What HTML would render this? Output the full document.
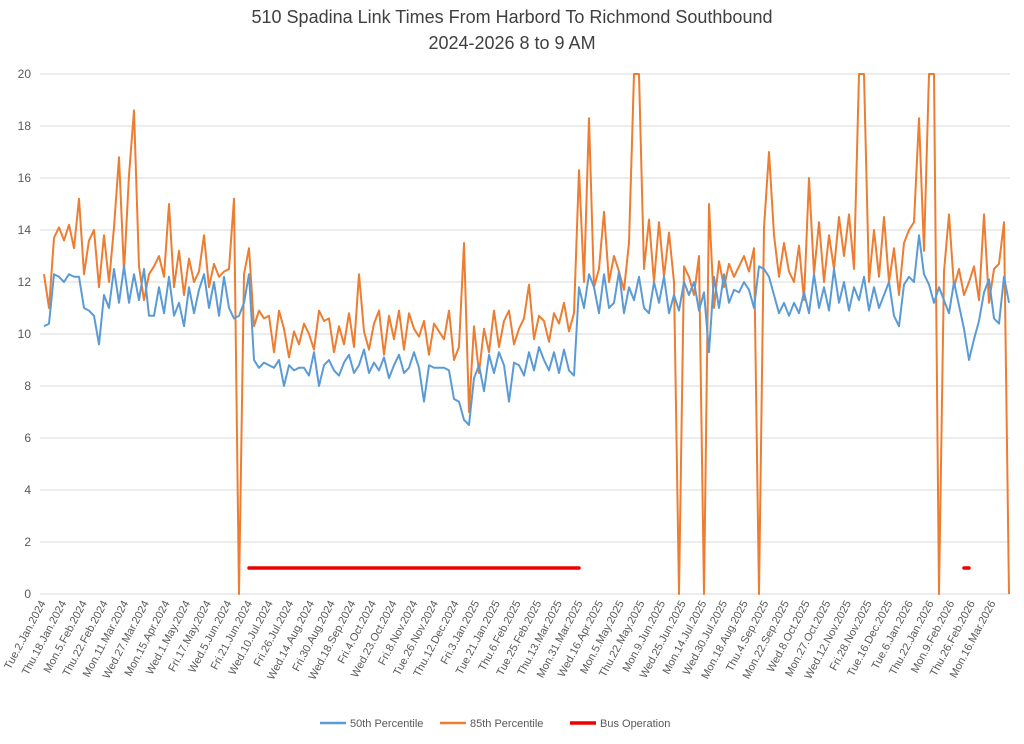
<!DOCTYPE html>
<html><head><meta charset="utf-8"><style>
body{margin:0;background:#fff;font-family:"Liberation Sans",sans-serif}
svg text{font-family:"Liberation Sans",sans-serif}
</style></head><body>
<svg id="chart" width="1024" height="739" viewBox="0 0 1024 739" xmlns="http://www.w3.org/2000/svg">
<text x="512" y="23" text-anchor="middle" font-size="18" fill="#404040">510 Spadina Link Times From Harbord To Richmond Southbound</text>
<text x="512" y="49" text-anchor="middle" font-size="18" fill="#404040">2024-2026 8 to 9 AM</text>
<g id="grid"></g><g id="yl"></g><g id="xl"></g><g id="series"></g>
<g>
<line x1="320" y1="723" x2="346" y2="723" stroke="#5b9bd5" stroke-width="2.5"/><text x="350" y="727" font-size="11" fill="#595959">50th Percentile</text>
<line x1="440" y1="723" x2="466" y2="723" stroke="#ed7d31" stroke-width="2.5"/><text x="470" y="727" font-size="11" fill="#595959">85th Percentile</text>
<line x1="570" y1="723" x2="596" y2="723" stroke="#e00" stroke-width="3.5"/><text x="600" y="727" font-size="11" fill="#595959">Bus Operation</text>
</g>
</svg>
<script>
const yTicks=[0,2,4,6,8,10,12,14,16,18,20];
const xLabels=["Tue.2.Jan.2024","Thu.18.Jan.2024","Mon.5.Feb.2024","Thu.22.Feb.2024","Mon.11.Mar.2024","Wed.27.Mar.2024","Mon.15.Apr.2024","Wed.1.May.2024","Fri.17.May.2024","Wed.5.Jun.2024","Fri.21.Jun.2024","Wed.10.Jul.2024","Fri.26.Jul.2024","Wed.14.Aug.2024","Fri.30.Aug.2024","Wed.18.Sep.2024","Fri.4.Oct.2024","Wed.23.Oct.2024","Fri.8.Nov.2024","Tue.26.Nov.2024","Thu.12.Dec.2024","Fri.3.Jan.2025","Tue.21.Jan.2025","Thu.6.Feb.2025","Tue.25.Feb.2025","Thu.13.Mar.2025","Mon.31.Mar.2025","Wed.16.Apr.2025","Mon.5.May.2025","Thu.22.May.2025","Mon.9.Jun.2025","Wed.25.Jun.2025","Mon.14.Jul.2025","Wed.30.Jul.2025","Mon.18.Aug.2025","Thu.4.Sep.2025","Mon.22.Sep.2025","Wed.8.Oct.2025","Mon.27.Oct.2025","Wed.12.Nov.2025","Fri.28.Nov.2025","Tue.16.Dec.2025","Tue.6.Jan.2026","Thu.22.Jan.2026","Mon.9.Feb.2026","Thu.26.Feb.2026","Mon.16.Mar.2026"];
const p50=[10.3,10.4,12.3,12.2,12.0,12.3,12.2,12.2,11.0,10.9,
10.7,9.6,11.5,11.0,12.5,11.2,12.6,11.2,12.3,11.3,
12.5,10.7,10.7,11.8,10.8,12.2,10.7,11.2,10.3,11.8,
10.8,11.7,12.3,11.0,12.0,10.7,12.2,11.0,10.6,10.7,
11.2,12.3,9.0,8.7,8.9,8.8,8.7,9.0,8.0,8.8,
8.6,8.7,8.7,8.4,9.3,8.0,8.8,9.0,8.6,8.4,
8.9,9.2,8.5,8.8,9.4,8.5,8.9,8.6,9.1,8.3,
8.8,9.2,8.5,8.7,9.3,8.7,7.4,8.8,8.7,8.7,
8.7,8.6,7.5,7.4,6.7,6.5,8.3,8.8,7.8,9.2,
8.5,9.3,8.8,7.4,8.9,8.8,8.4,9.3,8.6,9.5,
9.0,8.6,9.3,8.5,9.4,8.6,8.4,11.8,11.0,12.3,
11.8,10.8,12.3,11.0,11.2,12.4,10.8,11.8,11.3,12.2,
11.0,10.8,12.0,11.2,12.2,10.8,11.5,10.9,12.0,11.5,
12.0,10.9,11.6,9.3,12.2,11.0,12.3,11.2,11.7,11.6,
12.0,11.7,11.0,12.6,12.5,12.2,11.5,10.8,11.2,10.7,
11.2,10.8,11.6,10.8,12.3,11.0,11.8,10.9,12.5,11.2,
12.0,10.9,11.8,11.3,12.2,10.9,11.8,11.0,11.5,12.0,
10.7,10.3,11.9,12.2,12.0,13.8,12.3,11.9,11.2,11.8,
11.3,10.8,12.0,11.1,10.2,9.0,9.8,10.5,11.6,12.1,
10.6,10.4,12.2,11.2];
const p85=[12.3,11.0,13.7,14.1,13.6,14.2,13.3,15.2,12.3,13.6,
14.0,11.8,13.8,12.0,14.1,16.8,12.4,16.1,18.6,12.6,
11.3,12.3,12.6,13.0,12.2,15.0,11.8,13.2,11.5,12.9,
12.0,12.4,13.8,11.8,12.7,12.2,12.4,12.5,15.2,0,
12.3,13.3,10.3,10.9,10.6,10.7,9.3,10.9,10.2,9.1,
10.1,9.6,10.4,10.0,9.4,10.9,10.5,10.6,9.3,10.3,
9.6,10.8,9.5,12.3,10.1,9.4,10.4,10.9,9.2,10.7,
9.8,10.9,9.4,10.8,10.2,9.9,10.5,9.2,10.4,10.1,
9.8,10.9,9.0,9.5,13.5,7.0,10.3,8.5,10.2,9.3,
10.9,9.5,10.5,10.9,9.6,10.2,10.6,11.9,9.8,10.7,
10.5,9.7,10.8,10.4,11.2,10.1,10.8,16.3,12.0,18.3,
11.8,12.5,14.7,12.0,13.0,12.4,11.7,13.5,20,20,
12.5,14.4,12.0,14.3,12.2,13.9,12.0,0,12.6,12.2,
11.5,13.0,0,15.0,11.0,12.8,11.8,12.7,12.2,12.6,
13.0,12.4,13.3,0,14.1,17.0,13.8,12.2,13.5,12.4,
12.0,13.4,11.3,16.0,12.3,14.3,12.0,13.8,12.5,14.5,
13.0,14.6,12.5,20,20,12.0,14.0,12.2,14.5,12.0,
13.3,11.5,13.5,14.0,14.3,18.3,13.2,20,20,0,
12.4,14.6,11.8,12.5,11.5,12.0,12.6,11.3,14.6,11.2,
12.5,12.7,14.3,0];
const busOp=[null,null,null,null,null,null,null,null,null,null,
null,null,null,null,null,null,null,null,null,null,
null,null,null,null,null,null,null,null,null,null,
null,null,null,null,null,null,null,null,null,null,
null,1,1,1,1,1,1,1,1,1,
1,1,1,1,1,1,1,1,1,1,
1,1,1,1,1,1,1,1,1,1,
1,1,1,1,1,1,1,1,1,1,
1,1,1,1,1,1,1,1,1,1,
1,1,1,1,1,1,1,1,1,1,
1,1,1,1,1,1,1,1,null,null,
null,null,null,null,null,null,null,null,null,null,
null,null,null,null,null,null,null,null,null,null,
null,null,null,null,null,null,null,null,null,null,
null,null,null,null,null,null,null,null,null,null,
null,null,null,null,null,null,null,null,null,null,
null,null,null,null,null,null,null,null,null,null,
null,null,null,null,null,null,null,null,null,null,
null,null,null,null,1,1,null,null,null,null,
null,null,null,null];

const NS='http://www.w3.org/2000/svg';
const X0=44,X1=1009,Y0=594,Y1=74;
const n=p50.length;
function xs(i){return X0+(X1-X0)*i/(n-1);}
function ys(v){return Y0-(Y0-Y1)*v/20;}
function mk(t,a,p){const e=document.createElementNS(NS,t);for(const k in a)e.setAttribute(k,a[k]);p.appendChild(e);return e;}
const grid=document.getElementById('grid'),yl=document.getElementById('yl'),xl=document.getElementById('xl'),ser=document.getElementById('series');
yTicks.forEach(v=>{
 const l=mk('line',{x1:40,x2:1010,y1:ys(v),y2:ys(v),stroke:'#d9d9d9','stroke-width':1},grid);
 
 
 const t=mk('text',{x:31,y:ys(v)+4,'text-anchor':'end','font-size':12,fill:'#595959'},yl);
 t.textContent=v;
 
 
});
const step=(X1-X0)*12/(n*12/ (n-1)) ; 
xLabels.forEach((s,k)=>{
 const x=42+k*20.65;
 const t=mk('text',{x:0,y:0,'text-anchor':'end','font-size':11,fill:'#595959',transform:`translate(${x+4},603) rotate(-62)`},xl);
 t.textContent=s;
 
 
});
function path(arr){let d='',pen=false;arr.forEach((v,i)=>{if(v==null){pen=false;return;}d+=(pen?'L':'M')+xs(i).toFixed(1)+' '+ys(v).toFixed(1);pen=true;});return d;}
const pa=mk('path',{d:path(p85),fill:'none',stroke:'#ed7d31','stroke-width':2,'stroke-linejoin':'round'},ser);


const pb=mk('path',{d:path(p50),fill:'none',stroke:'#5b9bd5','stroke-width':2,'stroke-linejoin':'round'},ser);


const pc=mk('path',{d:path(busOp),fill:'none',stroke:'#e00','stroke-width':3.5,'stroke-linecap':'round'},ser);


</script>
</body></html>
